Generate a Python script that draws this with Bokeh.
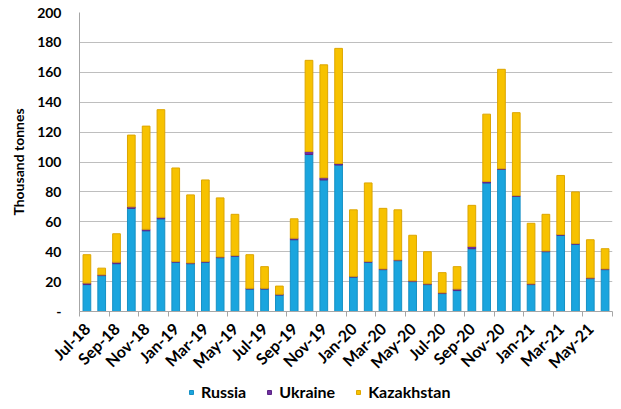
import math
from bokeh.plotting import figure
from bokeh.layouts import column
from bokeh.models import ColumnDataSource, FixedTicker, Legend, LegendItem
from bokeh.embed import file_html
from bokeh.resources import INLINE

months = ["Jul-18", "Aug-18", "Sep-18", "Oct-18", "Nov-18", "Dec-18",
          "Jan-19", "Feb-19", "Mar-19", "Apr-19", "May-19", "Jun-19",
          "Jul-19", "Aug-19", "Sep-19", "Oct-19", "Nov-19", "Dec-19",
          "Jan-20", "Feb-20", "Mar-20", "Apr-20", "May-20", "Jun-20",
          "Jul-20", "Aug-20", "Sep-20", "Oct-20", "Nov-20", "Dec-20",
          "Jan-21", "Feb-21", "Mar-21", "Apr-21", "May-21", "Jun-21"]

russia = [18, 24, 32, 69, 54, 62, 33, 32, 33, 36, 37, 15,
          15, 11, 48, 105, 88, 98, 23, 33, 28, 34, 20, 18,
          12, 14, 42, 86, 95, 77, 18, 40, 51, 45, 22, 28]
ukraine = [1, 0.5, 1, 1, 1, 1, 0.5, 0.5, 0.5, 0.5, 0.5, 0.5,
           0.5, 0.5, 1, 2, 1.5, 1, 0.5, 0.5, 0.5, 0.5, 0.5, 0.5,
           0.5, 1, 1.5, 1, 0.5, 0.5, 0.5, 0.5, 0.5, 0.5, 0.5, 0.5]
total = [38, 29, 52, 118, 124, 135, 96, 78, 88, 76, 65, 38,
         30, 17, 62, 168, 165, 176, 68, 86, 69, 68, 51, 40,
         26, 30, 71, 132, 162, 133, 59, 65, 91, 80, 48, 42]
kazakhstan = [t - r - u for t, r, u in zip(total, russia, ukraine)]

series_names = ["Russia", "Ukraine", "Kazakhstan"]
y_ticks = [0, 20, 40, 60, 80, 100, 120, 140, 160, 180, 200]

fills = ["#1AA5DE", "#7030A0", "#F7C200"]
edges = ["#1690C4", "#5A2585", "#DDA600"]

src = ColumnDataSource(dict(x=list(range(len(months))), russia=russia,
                            ukraine=ukraine, kaz=kazakhstan))

FONT = "Lato"
p = figure(width=613, height=381, output_backend="svg", toolbar_location=None,
           x_range=(-0.5, len(months) - 0.5), y_range=(0, 200),
           min_border_left=79, min_border_right=1, min_border_top=12,
           min_border_bottom=68)
p.outline_line_color = None

rs = p.vbar_stack(["russia", "ukraine", "kaz"], x="x", width=0.52, source=src,
                  fill_color=fills, line_color=edges, line_width=1)

p.xgrid.grid_line_color = None
p.ygrid.grid_line_color = "#BEBEBE"
p.ygrid.grid_line_width = 1

p.yaxis.ticker = FixedTicker(ticks=y_ticks)
p.yaxis.major_label_overrides = {0: "-"}
p.yaxis.major_tick_line_color = None
p.yaxis.minor_tick_line_color = None
p.yaxis.axis_line_color = "#A6A6A6"
p.yaxis.major_label_text_font = FONT
p.yaxis.major_label_text_font_style = "bold"
p.yaxis.major_label_text_font_size = "14px"
p.yaxis.major_label_text_color = "#000000"
p.yaxis.major_label_standoff = 12
p.yaxis.axis_label = "Thousand tonnes"
p.yaxis.axis_label_text_font = FONT
p.yaxis.axis_label_text_font_style = "bold"
p.yaxis.axis_label_text_font_size = "14px"
p.yaxis.axis_label_text_color = "#000000"
p.yaxis.axis_label_standoff = 7

p.xaxis.ticker = FixedTicker(ticks=list(range(0, len(months), 2)),
                             minor_ticks=[i - 0.5 for i in range(0, len(months) + 1, 2)])
p.xaxis.major_label_overrides = {i: months[i] for i in range(0, len(months), 2)}
p.xaxis.major_tick_line_color = None
p.xaxis.minor_tick_line_color = "#A6A6A6"
p.xaxis.minor_tick_out = 5
p.xaxis.minor_tick_in = 0
p.xaxis.axis_line_color = "#A6A6A6"
p.xaxis.major_label_orientation = math.pi / 4
p.xaxis.major_label_text_font = FONT
p.xaxis.major_label_text_font_style = "bold"
p.xaxis.major_label_text_font_size = "16px"
p.xaxis.major_label_text_color = "#000000"
p.xaxis.major_label_standoff = 8

# legend in its own strip below the chart
lf = figure(width=613, height=22, output_backend="svg", toolbar_location=None,
            x_range=(0, 1), y_range=(0, 1), min_border=0)
lf.axis.visible = False
lf.grid.visible = False
lf.outline_line_color = None
dummies = [lf.scatter(x=[-5], y=[-5], marker="square", size=12, fill_color=f, line_color=e)
           for f, e in zip(fills, edges)]
legend = Legend(items=[LegendItem(label=n, renderers=[r]) for n, r in zip(series_names, dummies)],
                location=(107, 2), orientation="horizontal",
                label_text_font=FONT, label_text_font_style="bold",
                label_text_font_size="16px", label_text_color="#000000",
                glyph_width=10, glyph_height=10,
                label_height=16, label_standoff=5, spacing=18, padding=1, margin=0,
                border_line_color=None, background_fill_alpha=0)
lf.add_layout(legend, "center")

layout = column(p, lf, spacing=0)
open("out.html", "w").write(file_html(layout, INLINE))
